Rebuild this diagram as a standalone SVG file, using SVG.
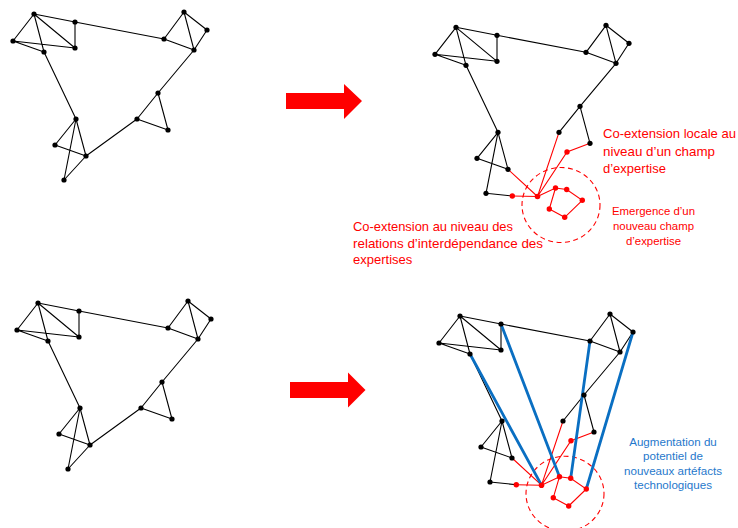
<svg xmlns="http://www.w3.org/2000/svg" xmlns:xlink="http://www.w3.org/1999/xlink" width="738" height="528" viewBox="0 0 738 528">
<style>
.blk{fill:none;stroke:#000;stroke-width:1.1;stroke-linecap:round}
.red{fill:none;stroke:#ff0000;stroke-width:1.1;stroke-linecap:round}
.blue{fill:none;stroke:#0a6fc2;stroke-width:2.8;stroke-linecap:round}
.dash{fill:none;stroke:#ff0000;stroke-width:1.1;stroke-dasharray:5 3.5}
.nb{fill:#000}
.nr{fill:#ff0000}
.arrow{fill:#ff0000}
.t{font-family:"Liberation Sans",Arial,sans-serif;fill:#ff0000}
.tb{font-family:"Liberation Sans",Arial,sans-serif;fill:#1f78cc}
</style>
<defs>
<g id="blacknodes">
<g id="nA"><circle class="nb" cx="34" cy="14" r="2.6"/></g>
<g id="nB"><circle class="nb" cx="75" cy="22" r="2.6"/></g>
<g id="nC"><circle class="nb" cx="13" cy="41" r="2.6"/></g>
<g id="nD"><circle class="nb" cx="44" cy="52" r="2.6"/></g>
<g id="nE"><circle class="nb" cx="75" cy="48" r="2.6"/></g>
<g id="nF"><circle class="nb" cx="184" cy="12" r="2.6"/></g>
<g id="nG"><circle class="nb" cx="207" cy="30" r="2.6"/></g>
<g id="nH"><circle class="nb" cx="164" cy="39" r="2.6"/></g>
<g id="nI"><circle class="nb" cx="194" cy="50" r="2.6"/></g>
<g id="nJ"><circle class="nb" cx="158" cy="93" r="2.6"/></g>
<g id="nK"><circle class="nb" cx="137" cy="119" r="2.6"/></g>
<g id="nL"><circle class="nb" cx="168" cy="130" r="2.6"/></g>
<g id="nM"><circle class="nb" cx="76" cy="119" r="2.6"/></g>
<g id="nN"><circle class="nb" cx="55" cy="145" r="2.6"/></g>
<g id="nO"><circle class="nb" cx="86" cy="156" r="2.6"/></g>
<g id="nP"><circle class="nb" cx="64" cy="180" r="2.6"/></g>
</g>
<g id="net-left">
<g id="edges-left">
<path class="blk" d="M34,14 L75,22 M34,14 L13,41 M34,14 L75,48 M34,14 L44,52 M13,41 L44,52 M13,41 L75,48 M75,22 L75,48 M75,22 L164,39 M164,39 L184,12 M164,39 L194,50 M184,12 L194,50 M184,12 L207,30 M207,30 L194,50 M194,50 L158,93 M158,93 L137,119 M158,93 L168,130 M137,119 L168,130 M137,119 L86,156 M44,52 L76,119 M76,119 L55,145 M76,119 L86,156 M76,119 L64,180 M55,145 L86,156 M86,156 L64,180"/>
</g>
<use xlink:href="#blacknodes"/>
</g>
<g id="edges-right">
<path class="blk" d="M34,14 L75,22 M34,14 L13,41 M34,14 L75,48 M34,14 L44,52 M13,41 L44,52 M13,41 L75,48 M75,22 L75,48 M75,22 L164,39 M164,39 L184,12 M164,39 L194,50 M184,12 L194,50 M184,12 L207,30 M207,30 L194,50 M194,50 L158,93 M158,93 L137,119 M158,93 L168,130 M44,52 L76,119 M76,119 L55,145 M76,119 L86,156 M76,119 L64,180 M55,145 L86,156 M64,180 L90.3,182.7"/>
<path class="red" d="M90.3,182.7 L115.5,183.2 M86,156 L115.5,183.2 M137,119 L115.5,183.2 M168,130 L145,138.7 L115.5,183.2 M115.5,183.2 L133.5,174.7 L144.7,176.2 L160.3,187 L142.7,204 L127.3,195.7 L133.5,174.7"/>
<ellipse class="dash" cx="139" cy="191.7" rx="39" ry="37.5"/>
</g>
<g id="nodes-right">
<use xlink:href="#blacknodes"/>
<g id="rednodes">
<g id="nX"><circle class="nr" cx="115.5" cy="183.2" r="2.8"/></g>
<g id="nR1"><circle class="nr" cx="90.3" cy="182.7" r="2.7"/></g>
<g id="nR2"><circle class="nr" cx="145" cy="138.7" r="2.7"/></g>
<g id="nR3"><circle class="nr" cx="133.5" cy="174.7" r="2.7"/></g>
<g id="nR4"><circle class="nr" cx="144.7" cy="176.2" r="2.7"/></g>
<g id="nR5"><circle class="nr" cx="160.3" cy="187" r="2.7"/></g>
<g id="nR6"><circle class="nr" cx="142.7" cy="204" r="2.7"/></g>
<g id="nR7"><circle class="nr" cx="127.3" cy="195.7" r="2.7"/></g>
</g>
</g>
</defs>

<g id="panel-top-left"><use xlink:href="#net-left"/></g>
<g id="panel-bottom-left" transform="translate(4,289)"><use xlink:href="#net-left"/></g>
<g id="panel-top-right" transform="translate(422,13.3)">
<use xlink:href="#edges-right"/>
<use xlink:href="#nodes-right"/>
</g>
<g id="panel-bottom-right" transform="translate(426,302)">
<use xlink:href="#edges-right"/>
<g id="blue-connectors">
<path class="blue" d="M44,52 L115.5,183.2 M75,22 L133.5,174.7 M164,39 L144.7,176.2 M207,30 L160.3,187"/>
</g>
<use xlink:href="#nodes-right"/>
</g>

<g id="arrows">
<polygon class="arrow" points="286,93 344,93 344,84 362,101 344,119 344,109 286,109"/>
<polygon class="arrow" points="290,382 348,382 348,372.5 365.5,390 348,407.5 348,398 290,398"/>
</g>

<g id="labels">
<text class="t" font-size="13" x="603" y="138" textLength="133" lengthAdjust="spacingAndGlyphs">Co-extension locale au</text>
<text class="t" font-size="13" x="603" y="156" textLength="112" lengthAdjust="spacingAndGlyphs">niveau d’un champ</text>
<text class="t" font-size="13" x="603" y="173">d’expertise</text>
<text class="t" font-size="11.4" x="653.5" y="215" text-anchor="middle">Emergence d’un</text>
<text class="t" font-size="11.4" x="653.5" y="230" text-anchor="middle">nouveau champ</text>
<text class="t" font-size="11.4" x="653.5" y="245" text-anchor="middle">d’expertise</text>
<text class="t" font-size="13" x="353" y="231" textLength="160" lengthAdjust="spacingAndGlyphs">Co-extension au niveau des</text>
<text class="t" font-size="13" x="353" y="247.5" textLength="190" lengthAdjust="spacingAndGlyphs">relations d’interdépendance des</text>
<text class="t" font-size="13" x="353" y="264">expertises</text>
<text class="tb" font-size="11.6" x="673" y="445.5" text-anchor="middle">Augmentation du</text>
<text class="tb" font-size="11.6" x="673" y="460" text-anchor="middle">potentiel de</text>
<text class="tb" font-size="11.6" x="673" y="474.5" text-anchor="middle">nouveaux artéfacts</text>
<text class="tb" font-size="11.6" x="673" y="489" text-anchor="middle">technologiques</text>
</g>
</svg>
